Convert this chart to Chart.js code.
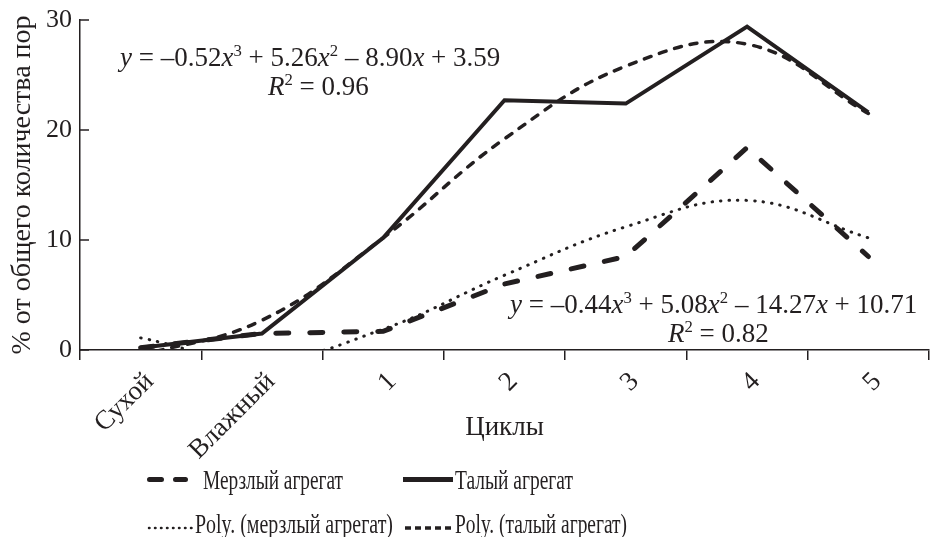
<!DOCTYPE html>
<html>
<head>
<meta charset="utf-8">
<script src="https://cdn.jsdelivr.net/npm/chart.js@4.4.0/dist/chart.umd.min.js"></script>
<style>
    html, body { margin: 0; padding: 0; background: #fff; }
    #wrap { width: 930px; height: 537px; }
</style>
</head>
<body>
<div id="wrap"><canvas id="graficoPoros" width="930" height="537"></canvas></div>
<script>
const categorias = ['Сухой', 'Влажный', '1', '2', '3', '4', '5'];
const merzly = [0.2, 1.5, 1.7, 6.0, 8.5, 18.4, 8.5];
const taly = [0.2, 1.5, 10.2, 22.7, 22.4, 29.4, 21.6];
const polyMerzly = [1.1, -1.0, 1.9, 6.8, 11.2, 13.6, 10.2];
const polyTaly = [-0.5, 2.7, 10.2, 19.2, 25.8, 27.8, 21.5];
const yTicks = [0, 10, 20, 30];
const nombres = ['Мерзлый агрегат', 'Талый агрегат', 'Poly. (мерзлый агрегат)', 'Poly. (талый агрегат)'];

// ecuaciones: [texto, estilo] -> '' normal, 'i' cursiva, 's' superindice
const eqTaly = [['y', 'i'], [' = –0.52', ''], ['x', 'i'], ['3', 's'], [' + 5.26', ''], ['x', 'i'], ['2', 's'], [' – 8.90', ''], ['x', 'i'], [' + 3.59', '']];
const r2Taly = [['R', 'i'], ['2', 's'], [' = 0.96', '']];
const eqMerzly = [['y', 'i'], [' = –0.44', ''], ['x', 'i'], ['3', 's'], [' + 5.08', ''], ['x', 'i'], ['2', 's'], [' – 14.27', ''], ['x', 'i'], [' + 10.71', '']];
const r2Merzly = [['R', 'i'], ['2', 's'], [' = 0.82', '']];

const negro = '#231f20';
const fuente = '"Liberation Serif", "Times New Roman", serif';

function dibujarEcuacion(ctx, partes, x, y, size) {
    let cx = x;
    partes.forEach(([t, s]) => {
        const sz = s === 's' ? size * 0.62 : size;
        ctx.font = (s === 'i' ? 'italic ' : '') + sz + 'px ' + fuente;
        const dy = s === 's' ? -size * 0.38 : 0;
        ctx.fillText(t, cx, y + dy);
        cx += ctx.measureText(t).width;
    });
}

const extras = {
    id: 'extras',
    afterDraw(chart) {
        const { ctx, chartArea, scales } = chart;
        ctx.save();
        ctx.strokeStyle = negro;
        ctx.fillStyle = negro;

        // marcas del eje y hacia adentro
        ctx.lineWidth = 1.5;
        yTicks.forEach(v => {
            const py = scales.y.getPixelForValue(v);
            ctx.beginPath();
            ctx.moveTo(chartArea.left, py);
            ctx.lineTo(chartArea.left + 9, py);
            ctx.stroke();
        });

        // ecuaciones
        ctx.textAlign = 'left';
        ctx.textBaseline = 'alphabetic';
        dibujarEcuacion(ctx, eqTaly, 120, 66, 27);
        dibujarEcuacion(ctx, r2Taly, 268, 95, 27);
        dibujarEcuacion(ctx, eqMerzly, 510, 313, 27);
        dibujarEcuacion(ctx, r2Merzly, 668, 342, 27);

        // leyenda
        ctx.lineWidth = 5;
        ctx.lineCap = 'round';
        ctx.setLineDash([12, 14]);
        ctx.beginPath(); ctx.moveTo(149.5, 479.5); ctx.lineTo(185.5, 479.5); ctx.stroke();

        ctx.lineCap = 'butt';
        ctx.setLineDash([]);
        ctx.beginPath(); ctx.moveTo(403, 479.5); ctx.lineTo(453, 479.5); ctx.stroke();

        ctx.lineWidth = 2.5;
        ctx.lineCap = 'round';
        ctx.setLineDash([0.5, 5.5]);
        ctx.beginPath(); ctx.moveTo(149, 528); ctx.lineTo(194, 528); ctx.stroke();

        ctx.lineWidth = 3.5;
        ctx.lineCap = 'butt';
        ctx.setLineDash([6, 4]);
        ctx.beginPath(); ctx.moveTo(405, 528); ctx.lineTo(453, 528); ctx.stroke();
        ctx.setLineDash([]);

        ctx.font = '27px ' + fuente;
        ctx.fillText(nombres[0], 203, 489, 140);
        ctx.fillText(nombres[1], 455, 489, 118);
        ctx.fillText(nombres[2], 195, 533, 198);
        ctx.fillText(nombres[3], 455, 533, 172);
        ctx.restore();
    }
};

const ctx = document.getElementById('graficoPoros').getContext('2d');
new Chart(ctx, {
    type: 'line',
    data: {
        labels: categorias,
        datasets: [
            {
                label: nombres[0],
                data: merzly,
                borderColor: negro,
                borderWidth: 5,
                borderDash: [13, 21],
                borderCapStyle: 'round',
                pointRadius: 0,
                tension: 0
            },
            {
                label: nombres[1],
                data: taly,
                borderColor: negro,
                borderWidth: 4,
                pointRadius: 0,
                tension: 0
            },
            {
                label: nombres[2],
                data: polyMerzly,
                borderColor: negro,
                borderWidth: 3,
                borderDash: [0.5, 8],
                borderCapStyle: 'round',
                pointRadius: 0,
                tension: 0.4,
                capBezierPoints: false
            },
            {
                label: nombres[3],
                data: polyTaly,
                borderColor: negro,
                borderWidth: 3.5,
                borderDash: [7, 9],
                borderCapStyle: 'round',
                pointRadius: 0,
                tension: 0.4,
                capBezierPoints: false
            }
        ]
    },
    options: {
        responsive: false,
        animation: false,
        events: [],
        layout: { autoPadding: false, padding: { top: 20, right: 1, bottom: 0, left: 0 } },
        plugins: { legend: { display: false }, tooltip: { enabled: false } },
        scales: {
            x: {
                type: 'category',
                offset: true,
                grid: { offset: true, drawOnChartArea: false, drawTicks: true, tickLength: 10, color: negro, lineWidth: 1.5 },
                border: { display: true, color: negro, width: 1.5 },
                ticks: {
                    minRotation: 45,
                    maxRotation: 45,
                    padding: 6,
                    labelOffset: 9,
                    color: negro,
                    font: { family: fuente, size: 27 }
                },
                title: {
                    display: true,
                    text: 'Циклы',
                    color: negro,
                    font: { family: fuente, size: 27 },
                    padding: { top: 0, bottom: 93 }
                },
                afterFit(scale) {
                    scale.height = 187;
                    scale.paddingLeft = 0;
                    scale.paddingRight = 0;
                }
            },
            y: {
                min: 0,
                max: 30,
                grid: { drawOnChartArea: false, drawTicks: false },
                border: { display: true, color: negro, width: 1.5 },
                ticks: {
                    stepSize: 10,
                    padding: 8,
                    color: negro,
                    font: { family: fuente, size: 26 },
                    callback: function(value) { return yTicks.includes(value) ? String(value) : ''; }
                },
                title: {
                    display: true,
                    text: '% от общего количества пор',
                    color: negro,
                    font: { family: fuente, size: 28 },
                    padding: { top: 6, bottom: 0 }
                },
                afterFit(scale) {
                    scale.width = 80;
                    scale.paddingTop = 0;
                    scale.paddingBottom = 0;
                }
            }
        }
    },
    plugins: [extras]
});
</script>
</body>
</html>
